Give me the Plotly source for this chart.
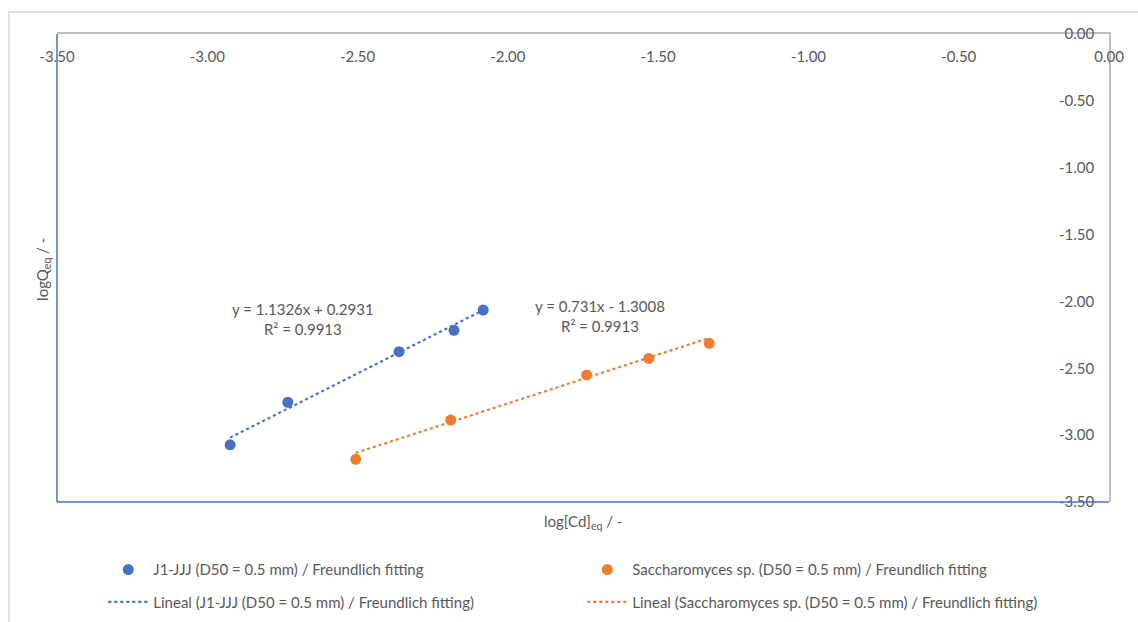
import plotly.graph_objects as go

# Freundlich isotherm data (log-log)
j1_x = [-2.924, -2.732, -2.362, -2.179, -2.082]
j1_y = [-3.072, -2.754, -2.376, -2.216, -2.064]
sac_x = [-2.506, -2.190, -1.738, -1.531, -1.330]
sac_y = [-3.181, -2.887, -2.550, -2.426, -2.313]

# Linear fit parameters
j1_slope, j1_icpt, j1_r2 = 1.1326, 0.2931, 0.9913
sac_slope, sac_icpt, sac_r2 = 0.731, -1.3008, 0.9913

j1_name = "J1-JJJ (D50 = 0.5 mm) / Freundlich fitting"
sac_name = "Saccharomyces sp. (D50 = 0.5 mm) / Freundlich fitting"

x_ticks = [-3.5, -3.0, -2.5, -2.0, -1.5, -1.0, -0.5, 0.0]
y_ticks = [0.0, -0.5, -1.0, -1.5, -2.0, -2.5, -3.0, -3.5]
x_ticktext = ["-3.50", "-3.00", "-2.50", "-2.00", "-1.50", "-1.00", "-0.50", "0.00"]
y_ticktext = ["0.00", "-0.50", "-1.00", "-1.50", "-2.00", "-2.50", "-3.00", "-3.50"]

BLUE = "#4472C4"
ORANGE = "#ED7D31"
TXT = "#595959"
FONT = "Lato"
FS = 15


def fit_line(xs, slope, icpt):
    xa, xb = min(xs), max(xs)
    return [xa, xb], [slope * xa + icpt, slope * xb + icpt]


fig = go.Figure()
fig.add_trace(go.Scatter(x=j1_x, y=j1_y, mode="markers", name=j1_name,
                         marker=dict(color=BLUE, size=11), legend="legend"))
fig.add_trace(go.Scatter(x=sac_x, y=sac_y, mode="markers", name=sac_name,
                         marker=dict(color=ORANGE, size=11), legend="legend"))
lx, ly = fit_line(j1_x, j1_slope, j1_icpt)
fig.add_trace(go.Scatter(x=lx, y=ly, mode="lines", name=f"Lineal ({j1_name})",
                         line=dict(color=BLUE, width=2.2, dash="dot"), legend="legend2"))
lx, ly = fit_line(sac_x, sac_slope, sac_icpt)
fig.add_trace(go.Scatter(x=lx, y=ly, mode="lines", name=f"Lineal ({sac_name})",
                         line=dict(color=ORANGE, width=2.2, dash="dot"), legend="legend2"))


def eq_text(slope, icpt, r2):
    sign = "+" if icpt >= 0 else "-"
    return f"y = {slope:g}x {sign} {abs(icpt):.4f}<br>R² = {r2:.4f}"


fig.add_annotation(x=-2.682, y=-2.135, text=eq_text(j1_slope, j1_icpt, j1_r2),
                   showarrow=False, align="center", font=dict(size=FS, color=TXT))
fig.add_annotation(x=-1.694, y=-2.109, text=eq_text(sac_slope, sac_icpt, sac_r2),
                   showarrow=False, align="center", font=dict(size=FS, color=TXT))

# Axis titles
fig.add_annotation(xref="paper", yref="paper", x=0.5, y=-0.043, xanchor="center", yanchor="middle",
                   text="log[Cd]<sub>eq</sub> / -", showarrow=False, font=dict(size=FS, color=TXT))
fig.add_annotation(xref="paper", yref="paper", x=-0.0133, y=0.496, xanchor="center", yanchor="middle",
                   text="logQ<sub>eq</sub> / -", textangle=-90, showarrow=False,
                   font=dict(size=FS, color=TXT))

# Chart border and blue plot-area edges
fig.add_shape(type="rect", xref="paper", yref="paper", x0=-0.0456, x1=1.1, y0=1.047, y1=-0.3,
              line=dict(color="#D9D9D9", width=1.5), layer="below")
fig.add_shape(type="line", xref="paper", yref="paper", x0=0, x1=0, y0=0, y1=1,
              line=dict(color=BLUE, width=1.5))
fig.add_shape(type="line", xref="paper", yref="paper", x0=0, x1=1, y0=0, y1=0,
              line=dict(color=BLUE, width=1.5))

legend_style = dict(orientation="h", x=0.044, xanchor="left", yanchor="middle",
                    entrywidth=424, entrywidthmode="pixels", itemwidth=40,
                    font=dict(size=FS, color=TXT), bgcolor="rgba(0,0,0,0)")

fig.update_layout(
    width=1138, height=622,
    margin=dict(l=57, r=29, t=34, b=120, autoexpand=False),
    paper_bgcolor="white", plot_bgcolor="white",
    font=dict(family=FONT, color=TXT, size=FS),
    xaxis=dict(range=[-3.5, 0], side="top", tickvals=x_ticks, ticktext=x_ticktext,
               ticklabelposition="inside", ticklabeloverflow="allow", ticklabelstandoff=18,
               showgrid=False, zeroline=False,
               showline=True, linecolor="#BFBFBF", linewidth=1.5, ticks="",
               tickfont=dict(size=FS, color=TXT)),
    yaxis=dict(range=[-3.5, 0], side="right", tickvals=y_ticks, ticktext=y_ticktext,
               ticklabelposition="inside", ticklabeloverflow="allow", ticklabelstandoff=15,
               showgrid=False, zeroline=False,
               showline=True, linecolor="#BFBFBF", linewidth=1.5, ticks="",
               tickfont=dict(size=FS, color=TXT)),
    legend=dict(legend_style, y=-0.145),
    legend2=dict(legend_style, y=-0.214),
)

fig.write_html("out.html")
